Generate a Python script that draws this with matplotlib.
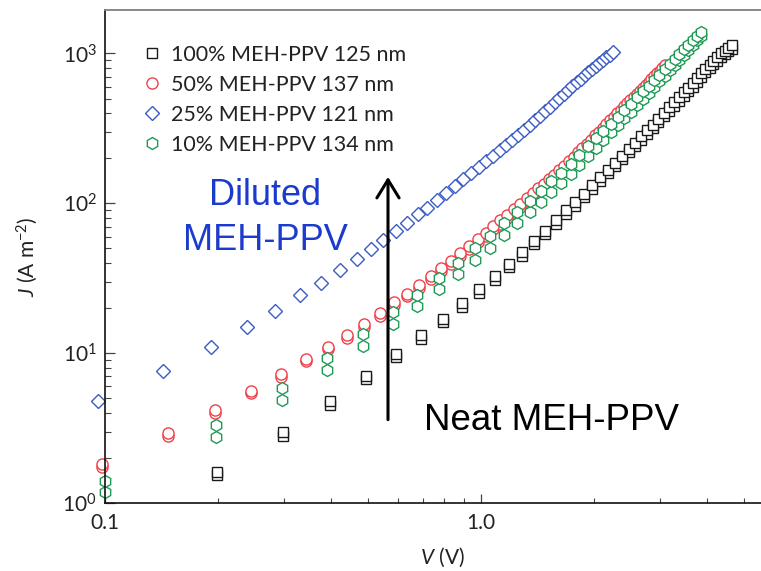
import numpy as np
import matplotlib
matplotlib.use('Agg')
import matplotlib.pyplot as plt
from matplotlib.ticker import LogLocator, NullFormatter

# ------------------------------------------------------------------
# data (J in A m^-2, V in volts), two sweeps each
# ------------------------------------------------------------------
sq_v = [0.198, 0.297, 0.396, 0.495, 0.594, 0.692, 0.791, 0.89, 0.989, 1.088,
        1.187, 1.286, 1.384, 1.483, 1.582, 1.681, 1.78, 1.879, 1.978, 2.077,
        2.176, 2.275, 2.374, 2.473, 2.572, 2.671, 2.77, 2.868, 2.967, 3.066,
        3.165, 3.264, 3.363, 3.462, 3.561, 3.66, 3.759, 3.858, 3.957, 4.056,
        4.155, 4.254, 4.352, 4.451, 4.55, 4.649]
sq_j_a = [1.62, 2.96, 4.76, 7.06, 9.85, 13.2, 17.0, 21.5, 26.7, 32.8,
          39.5, 47.2, 56.2, 65.7, 77.3, 89.8, 102, 116, 132, 149,
          168, 187, 208, 231, 254, 280, 307, 335, 368, 403,
          439, 475, 512, 551, 592, 634, 683, 735, 790, 842,
          894, 948, 1000, 1046, 1093, 1140]
sq_j_b = [1.54, 2.81, 4.52, 6.71, 9.36, 12.5, 16.1, 20.3, 25.2, 31.0,
          37.4, 44.7, 53.2, 62.2, 73.1, 84.9, 96.5, 110, 125, 141,
          159, 177, 197, 219, 240, 265, 291, 317, 348, 381,
          415, 449, 484, 521, 560, 600, 646, 695, 747, 796,
          845, 897, 946, 989, 1034, 1078]

ci_v = [0.098, 0.147, 0.196, 0.245, 0.294, 0.343, 0.392, 0.441, 0.49, 0.539,
        0.588, 0.637, 0.686, 0.735, 0.784, 0.833, 0.882, 0.931, 0.98, 1.029,
        1.078, 1.127, 1.176, 1.225, 1.274, 1.323, 1.372, 1.421, 1.47, 1.519,
        1.568, 1.617, 1.666, 1.715, 1.764, 1.813, 1.862, 1.911, 1.96, 2.009,
        2.058, 2.107, 2.156, 2.205, 2.254, 2.303, 2.352, 2.401, 2.45, 2.499,
        2.548, 2.597, 2.646, 2.695, 2.744, 2.793, 2.842, 2.891, 2.94, 2.989,
        3.038, 3.087]
ci_j_a = [1.82, 2.92, 4.17, 5.6, 7.24, 9.21, 11.0, 13.2, 15.6, 18.4,
          21.9, 25.0, 28.6, 32.6, 36.9, 41.4, 46.3, 51.8, 57.6, 63.7,
          70.1, 76.8, 83.8, 91.2, 99.3, 107.7, 116.5, 125.7, 135.2, 145.1,
          155.5, 166.2, 177.2, 190.6, 204.5, 219.1, 234.3, 250, 266.5, 283.5,
          301.2, 319.5, 338.5, 358.1, 378.4, 399.4, 421, 443.5, 466.6, 490.3,
          514.8, 540, 565.9, 592.6, 620, 648.2, 677.1, 706.9, 737.3, 768.5,
          800.6, 833.4]
ci_j_b = [1.73, 2.81, 3.96, 5.39, 6.95, 8.8, 10.6, 12.7, 15.0, 17.6,
          20.9, 23.9, 27.3, 31.1, 35.2, 39.5, 44.2, 49.5, 55.0, 60.8,
          66.9, 73.3, 80.0, 87.1, 94.8, 102.9, 111.3, 120.0, 129.1, 138.6,
          148.5, 158.7, 169.2, 182.0, 195.3, 209.2, 223.8, 238.8, 254.5, 270.7,
          287.6, 305.1, 323.3, 342.0, 361.4, 381.4, 402.1, 423.5, 445.6, 468.2,
          491.6, 515.7, 540.4, 565.9, 592.1, 619.0, 646.6, 675.1, 704.1, 733.9,
          764.6, 795.9]

di_v = [0.096, 0.143, 0.191, 0.238, 0.283, 0.330, 0.376, 0.421, 0.467, 0.51,
        0.548, 0.594, 0.634, 0.679, 0.717, 0.762, 0.807, 0.852, 0.897, 0.942,
        0.987, 1.032, 1.077, 1.122, 1.167, 1.212, 1.257, 1.302, 1.347, 1.392,
        1.437, 1.482, 1.527, 1.572, 1.617, 1.662, 1.707, 1.752, 1.797, 1.842,
        1.887, 1.932, 1.977, 2.022, 2.067, 2.112, 2.157, 2.202, 2.247]
di_j = [4.8, 7.6, 11.0, 14.9, 19.1, 24.4, 29.3, 35.9, 42.4, 49.4,
        56.5, 65.8, 74.3, 84.5, 93.6, 105.4, 117.9, 131, 144.9, 159.4,
        174.6, 190.8, 207.8, 225.5, 243.9, 263.2, 285.4, 308.6, 333, 358.3,
        384.6, 412, 440.8, 471.4, 503, 536, 570, 605, 642, 680,
        715, 751, 787, 825, 863, 903, 943, 984, 1026]

hx_v = [0.1, 0.197, 0.295, 0.39, 0.487, 0.582, 0.678, 0.774, 0.87, 0.962,
        1.058, 1.154, 1.25, 1.347, 1.443, 1.54, 1.636, 1.732, 1.829, 1.925,
        2.021, 2.118, 2.214, 2.31, 2.407, 2.503, 2.6, 2.696, 2.792, 2.889,
        2.985, 3.081, 3.178, 3.274, 3.37, 3.467, 3.563, 3.659, 3.756, 3.852]
hx_j_a = [1.41, 3.31, 5.84, 9.26, 13.4, 18.8, 24.6, 31.9, 40.1, 50.1,
          60.7, 73.5, 87.9, 103.8, 121.1, 140, 160.4, 184, 210.9, 239.8,
          270.9, 304.8, 340.6, 378.9, 420, 463.5, 510, 558.6, 609.7, 664.3,
          721, 782.7, 848.4, 916.5, 988, 1064, 1142, 1224, 1310, 1399]
hx_j_b = [1.18, 2.74, 4.86, 7.7, 11.2, 15.7, 20.6, 26.6, 33.5, 42.0,
          50.7, 61.4, 73.4, 87.2, 102, 118.5, 136, 156.8, 180.6, 206,
          234, 264.6, 297, 332, 369.6, 409.7, 452.9, 498, 546, 597.9,
          651.8, 710.9, 773.7, 839.5, 909, 982, 1058, 1137, 1221, 1308]

labels = ['100% MEH-PPV 125 nm', '50% MEH-PPV 137 nm',
          '25% MEH-PPV 121 nm', '10% MEH-PPV 134 nm']

# ------------------------------------------------------------------
plt.rcParams['font.family'] = ['Lato', 'DejaVu Sans']
plt.rcParams['mathtext.fontset'] = 'custom'
plt.rcParams['mathtext.rm'] = 'Lato'
plt.rcParams['mathtext.it'] = 'Lato:italic'
plt.rcParams['mathtext.default'] = 'regular'

BLACK = '#1a1a1a'
RED = '#f0404a'
BLUE = '#3b5cc4'
GREEN = '#1e9a55'

fig = plt.figure(figsize=(7.61, 5.71), dpi=100)
ax = fig.add_axes([105 / 761, 1 - 503 / 571, 656 / 761, 493 / 571])

common = dict(ls='none', mfc='white', mew=1.0, clip_on=False)
ax.plot(sq_v, sq_j_b, marker='s', ms=7.2, mec=BLACK, **common)
h_sq, = ax.plot(sq_v, sq_j_a, marker='s', ms=7.2, mec=BLACK, **common)
ax.plot(ci_v, ci_j_b, marker='o', ms=8.0, mec=RED, **common)
h_ci, = ax.plot(ci_v, ci_j_a, marker='o', ms=8.0, mec=RED, **common)
ax.plot(hx_v, hx_j_b, marker='h', ms=8.6, mec=GREEN, **common)
h_hx, = ax.plot(hx_v, hx_j_a, marker='h', ms=8.6, mec=GREEN, **common)
h_di, = ax.plot(di_v, di_j, marker='D', ms=7.3, mec=BLUE, **common)

ax.set_xscale('log')
ax.set_yscale('log')
ax.set_xlim(0.1, 5.56)
ax.set_ylim(1, 1950)

ax.set_xticks([0.1, 1.0], ['0.1', '1.0'])
ax.xaxis.set_minor_locator(LogLocator(base=10, subs=np.arange(2, 10)))
ax.xaxis.set_minor_formatter(NullFormatter())
ax.yaxis.set_minor_locator(LogLocator(base=10, subs=np.arange(2, 10)))
ax.yaxis.set_minor_formatter(NullFormatter())

ax.tick_params(which='both', direction='in', color='#444444', labelsize=15,
               labelcolor='#222222')
ax.tick_params(axis='y', which='major', length=7, width=0.9, pad=6)
ax.tick_params(axis='y', which='minor', length=4.5, width=0.8)
ax.tick_params(axis='x', which='major', length=6.5, width=0.9, pad=7)
ax.tick_params(axis='x', which='minor', length=3.5, width=0.8)

for side in ['left', 'bottom']:
    ax.spines[side].set_color('#111111')
    ax.spines[side].set_linewidth(1.2)
ax.spines['top'].set_color('#808080')
ax.spines['top'].set_linewidth(1.3)
ax.spines['right'].set_visible(False)

ax.set_xlabel(r'$\mathit{V}$ (V)', fontsize=15, labelpad=9, color='#222222')
ax.xaxis.label.set_x((442 - 105) / 656)
ax.set_ylabel(r'$\mathit{J}$ (A m$^{-2}$)', fontsize=15, labelpad=16,
              color='#222222')

ax.legend([h_sq, h_ci, h_di, h_hx], labels, loc='upper left',
          bbox_to_anchor=((141 - 105) / 656, (503 - 45) / 493),
          frameon=False, fontsize=15.5, handlelength=1.05, handletextpad=0.35,
          labelspacing=0.46, borderpad=0, borderaxespad=0, numpoints=1,
          labelcolor='#222222')

# annotations
ax.annotate('', xy=(0.566, 150), xytext=(0.566, 3.6),
            arrowprops=dict(arrowstyle='->,head_length=0.65,head_width=0.4',
                            lw=2.2, color='black', mutation_scale=20,
                            shrinkA=0, shrinkB=0))
ax.text((265 - 105) / 656, (503 - 205) / 493, 'Diluted',
        transform=ax.transAxes, ha='center', va='baseline', fontsize=26,
        color='#1a3bcc', family='Liberation Sans')
ax.text((265 - 105) / 656, (503 - 250) / 493, 'MEH-PPV',
        transform=ax.transAxes, ha='center', va='baseline', fontsize=26,
        color='#1a3bcc', family='Liberation Sans')
ax.text((552 - 105) / 656, (503 - 430) / 493, 'Neat MEH-PPV',
        transform=ax.transAxes, ha='center', va='baseline', fontsize=26.5,
        color='black', family='Liberation Sans')

fig.savefig('out.png', dpi=100)
